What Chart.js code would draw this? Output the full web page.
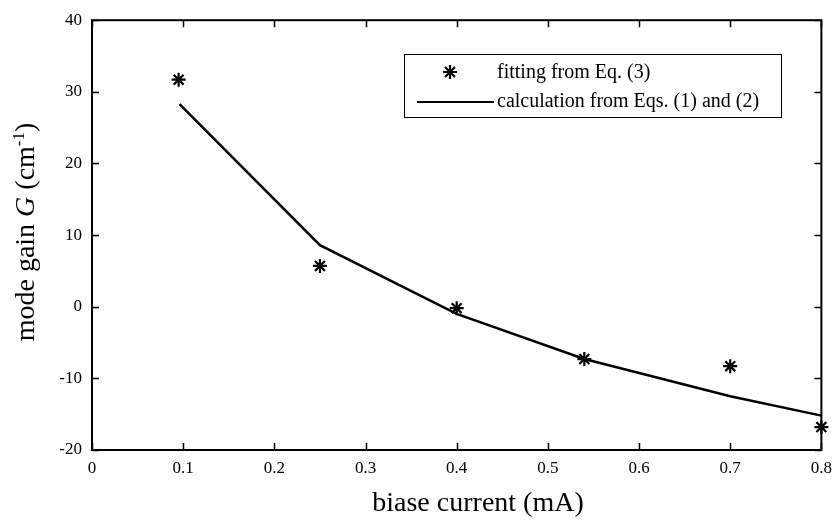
<!DOCTYPE html>
<html>
<head>
<meta charset="utf-8">
<script src="https://cdn.jsdelivr.net/npm/chart.js@4"></script>
<style>
  html, body { margin: 0; padding: 0; background: #fff; }
  #wrap { width: 840px; height: 523px; }
</style>
</head>
<body>
<div id="wrap"><canvas id="graficoGanho" width="840" height="523"></canvas></div>
<script>
// valores
const correnteFit = [0.095, 0.25, 0.40, 0.54, 0.70, 0.80];
const ganhoFit = [31.7, 5.7, -0.2, -7.3, -8.3, -16.8];
const correnteCalc = [0.096, 0.25, 0.40, 0.54, 0.70, 0.80];
const ganhoCalc = [28.3, 8.6, -1.0, -7.3, -12.5, -15.2];
const ticksX = [0, 0.1, 0.2, 0.3, 0.4, 0.5, 0.6, 0.7, 0.8];
const ticksY = [-20, -10, 0, 10, 20, 30, 40];
const rotulos = ['fitting from Eq. (3)', 'calculation from Eqs. (1) and (2)'];

const fonte = '"Liberation Serif", "Times New Roman", serif';

const pontos = (xs, ys) => xs.map((x, i) => ({ x: x, y: ys[i] }));

// moldura, ticks para dentro, legenda e titulos dos eixos
const extras = {
  id: 'extras',
  afterDraw(chart) {
    const { ctx, chartArea: a, scales } = chart;
    const tam = 7;
    ctx.save();
    ctx.strokeStyle = '#000';
    ctx.lineWidth = 1.5;
    ticksX.forEach(v => {
      const px = Math.round(scales.x.getPixelForValue(v)) + 0.5;
      ctx.beginPath();
      ctx.moveTo(px, a.bottom); ctx.lineTo(px, a.bottom - tam);
      ctx.moveTo(px, a.top); ctx.lineTo(px, a.top + tam);
      ctx.stroke();
    });
    ticksY.forEach(v => {
      const py = Math.round(scales.y.getPixelForValue(v)) + 0.5;
      ctx.beginPath();
      ctx.moveTo(a.left, py); ctx.lineTo(a.left + tam, py);
      ctx.moveTo(a.right, py); ctx.lineTo(a.right - tam, py);
      ctx.stroke();
    });
    ctx.lineWidth = 2;
    ctx.strokeRect(a.left, a.top, a.right - a.left, a.bottom - a.top);

    // legenda
    const lx = 404, ly = 54, lw = 377, lh = 63;
    ctx.lineWidth = 1;
    ctx.strokeRect(lx + 0.5, ly + 0.5, lw, lh);
    ctx.fillStyle = '#000';
    ctx.font = '20px ' + fonte;
    ctx.textBaseline = 'middle';
    ctx.textAlign = 'left';
    const ds0 = chart.data.datasets[0];
    ctx.lineWidth = ds0.borderWidth;
    Chart.helpers.drawPoint(ctx, {
      pointStyle: 'star', radius: ds0.pointRadius, borderWidth: ds0.borderWidth, rotation: 0
    }, 450, 72);
    ctx.fillText(ds0.label, 497, 73);
    ctx.lineWidth = 2;
    ctx.beginPath();
    ctx.moveTo(417, 102); ctx.lineTo(494, 102);
    ctx.stroke();
    ctx.fillText(chart.data.datasets[1].label, 497, 102);

    // titulo eixo x
    ctx.font = '28px ' + fonte;
    ctx.textAlign = 'center';
    ctx.textBaseline = 'alphabetic';
    ctx.fillText('biase current (mA)', 478, 511);

    // titulo eixo y com G italico e expoente
    ctx.translate(34, 232);
    ctx.rotate(-Math.PI / 2);
    const partes = [
      { t: 'mode gain ', f: '28px ' + fonte, dy: 0 },
      { t: 'G', f: 'italic 28px ' + fonte, dy: 0 },
      { t: ' (cm', f: '28px ' + fonte, dy: 0 },
      { t: '-1', f: '17px ' + fonte, dy: -10 },
      { t: ')', f: '28px ' + fonte, dy: 0 }
    ];
    let total = 0;
    partes.forEach(p => { ctx.font = p.f; p.w = ctx.measureText(p.t).width; total += p.w; });
    let cx = -total / 2;
    ctx.textAlign = 'left';
    partes.forEach(p => {
      ctx.font = p.f;
      ctx.fillText(p.t, cx, p.dy);
      cx += p.w;
    });
    ctx.restore();
  }
};

const grafico = new Chart(document.getElementById('graficoGanho'), {
  type: 'scatter',
  data: {
    datasets: [{
      label: rotulos[0],
      data: pontos(correnteFit, ganhoFit),
      pointStyle: 'star',
      pointRadius: 7,
      borderWidth: 2.2,
      borderColor: '#000',
      backgroundColor: '#000',
      showLine: false,
      clip: false
    }, {
      label: rotulos[1],
      data: pontos(correnteCalc, ganhoCalc),
      showLine: true,
      pointRadius: 0,
      borderWidth: 2.5,
      borderColor: '#000',
      backgroundColor: '#000',
      tension: 0,
      clip: false
    }]
  },
  options: {
    responsive: false,
    animation: false,
    layout: { padding: { top: 12, right: 12, left: 0, bottom: 0 } },
    plugins: {
      legend: { display: false },
      tooltip: { enabled: false }
    },
    scales: {
      x: {
        type: 'linear',
        min: 0,
        max: 0.8,
        afterBuildTicks: (s) => { s.ticks = ticksX.map(v => ({ value: v })); },
        afterFit: (s) => { s.height = 73; },
        grid: { display: false, drawTicks: false },
        border: { display: false },
        ticks: {
          color: '#000',
          padding: 8,
          font: { family: fonte, size: 17 },
          callback: (v) => v === 0 ? '0' : v.toFixed(1)
        }
      },
      y: {
        min: -20,
        max: 40,
        afterBuildTicks: (s) => { s.ticks = ticksY.map(v => ({ value: v })); },
        afterFit: (s) => { s.width = 92; },
        grid: { display: false, drawTicks: false },
        border: { display: false },
        ticks: {
          color: '#000',
          padding: 10,
          font: { family: fonte, size: 17 }
        }
      }
    }
  },
  plugins: [extras]
});
</script>
</body>
</html>
